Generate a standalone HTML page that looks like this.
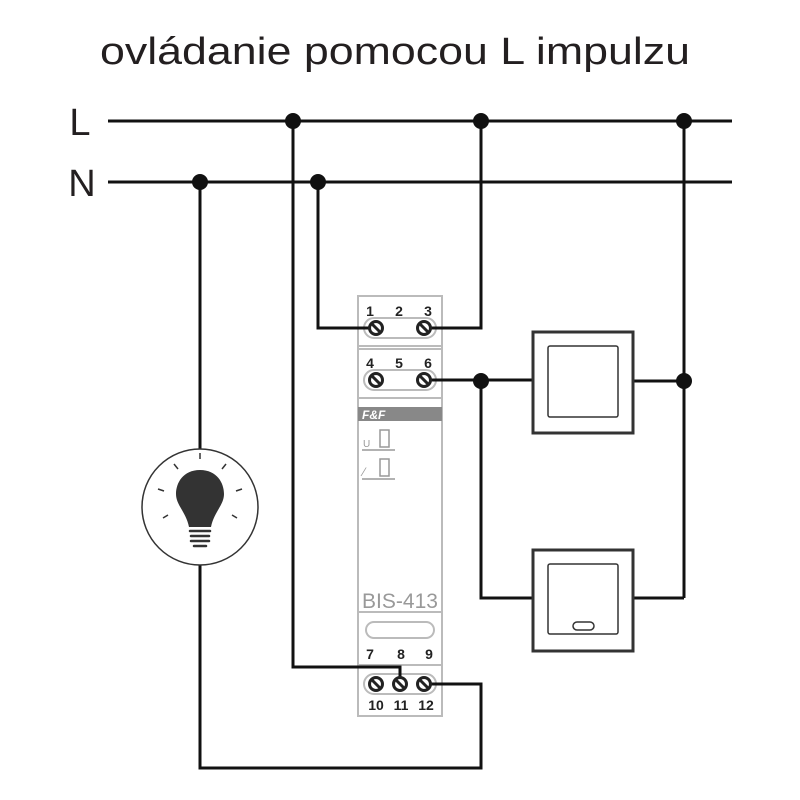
<!DOCTYPE html>
<html><head><style>body{margin:0;background:#fff}svg{display:block}</style></head><body>
<svg width="800" height="800" viewBox="0 0 800 800" xmlns="http://www.w3.org/2000/svg" font-family="Liberation Sans, sans-serif">
<text x="100" y="64" font-size="38" textLength="590" lengthAdjust="spacingAndGlyphs" fill="#231f20">ovládanie pomocou L impulzu</text>
<text x="80" y="135" font-size="38" text-anchor="middle" fill="#231f20">L</text>
<text x="82" y="196" font-size="38" text-anchor="middle" fill="#231f20">N</text>
<!-- device -->
<g stroke="#bbb" stroke-width="2" fill="#fff">
<rect x="358" y="296" width="84" height="420"/>
<line x1="358" y1="346" x2="442" y2="346"/>
<line x1="358" y1="349" x2="442" y2="349"/>
<line x1="358" y1="398" x2="442" y2="398"/>
<line x1="358" y1="612" x2="442" y2="612"/>
<line x1="358" y1="665" x2="442" y2="665"/>
<rect x="364" y="318" width="72" height="20" rx="10"/>
<rect x="364" y="370" width="72" height="20" rx="10"/>
<rect x="366" y="622" width="68" height="16" rx="8"/>
<rect x="364" y="674" width="72" height="20" rx="10"/>
</g>
<rect x="358" y="407" width="84" height="14" fill="#888"/>
<text x="362" y="419" font-size="12" font-weight="bold" font-style="italic" fill="#fff">F&amp;F</text>
<g stroke="#999" stroke-width="1.5" fill="none">
<rect x="380" y="430" width="9" height="17"/><line x1="362" y1="450" x2="395" y2="450"/>
<rect x="380" y="459" width="9" height="17"/><line x1="362" y1="479" x2="395" y2="479"/>
</g>
<text x="363" y="447" font-size="10" fill="#999">U</text>
<text x="363" y="476" font-size="12" fill="#999">⁄</text>
<text x="400" y="608" font-size="21" text-anchor="middle" fill="#999">BIS-413</text>
<g font-size="14" font-weight="bold" fill="#222" text-anchor="middle">
<text x="370" y="316">1</text><text x="399" y="316">2</text><text x="428" y="316">3</text>
<text x="370" y="368">4</text><text x="399" y="368">5</text><text x="428" y="368">6</text>
<text x="370" y="659">7</text><text x="401" y="659">8</text><text x="429" y="659">9</text>
<text x="376" y="710">10</text><text x="401" y="710">11</text><text x="426" y="710">12</text>
</g>
<g stroke="#111" stroke-width="3" fill="none">
<line x1="108" y1="121" x2="732" y2="121"/>
<line x1="108" y1="182" x2="732" y2="182"/>
<polyline points="318,182 318,328 376,328"/>
<polyline points="424,328 481,328 481,121"/>
<polyline points="424,380 532,380"/>
<polyline points="633,381 684,381"/>
<line x1="684" y1="121" x2="684" y2="598"/>
<polyline points="481,380 481,598 532,598"/>
<line x1="633" y1="598" x2="684" y2="598"/>
<polyline points="293,121 293,667 400,667 400,684"/>
<polyline points="424,684 481,684 481,768 200,768 200,565"/>
<line x1="200" y1="182" x2="200" y2="449"/>
</g>
<g fill="#111">
<circle cx="293" cy="121" r="8"/><circle cx="481" cy="121" r="8"/><circle cx="684" cy="121" r="8"/>
<circle cx="200" cy="182" r="8"/><circle cx="318" cy="182" r="8"/>
<circle cx="481" cy="381" r="8"/><circle cx="684" cy="381" r="8"/>
</g>
<g stroke="#222" stroke-width="3" fill="#fff">
<circle cx="376" cy="328" r="6.5"/><circle cx="424" cy="328" r="6.5"/>
<circle cx="376" cy="380" r="6.5"/><circle cx="424" cy="380" r="6.5"/>
<circle cx="376" cy="684" r="6.5"/><circle cx="400" cy="684" r="6.5"/><circle cx="424" cy="684" r="6.5"/>
</g>
<g stroke="#222" stroke-width="3">
<line x1="372" y1="324" x2="380" y2="332"/><line x1="420" y1="324" x2="428" y2="332"/>
<line x1="372" y1="376" x2="380" y2="384"/><line x1="420" y1="376" x2="428" y2="384"/>
<line x1="372" y1="680" x2="380" y2="688"/><line x1="396" y1="680" x2="404" y2="688"/><line x1="420" y1="680" x2="428" y2="688"/>
</g>
<!-- switches -->
<g stroke="#333" fill="#fff">
<rect x="533" y="332" width="100" height="101" stroke-width="3"/>
<rect x="548" y="346" width="70" height="71" rx="2" stroke-width="1.5"/>
<rect x="533" y="550" width="100" height="101" stroke-width="3"/>
<rect x="548" y="564" width="70" height="70" rx="2" stroke-width="1.5"/>
<rect x="573" y="622" width="21" height="8" rx="4" stroke-width="1.5"/>
</g>
<!-- lamp -->
<circle cx="200" cy="507" r="58" fill="#fff" stroke="#333" stroke-width="1.5"/>
<path d="M200,470 C183,470 176,483 176,494 C176,505 186,512 189,527 L211,527 C214,512 224,505 224,494 C224,483 217,470 200,470 Z" fill="#333"/>
<g stroke="#333" stroke-width="2.5" stroke-linecap="round">
<line x1="190" y1="531" x2="210" y2="531"/><line x1="191" y1="536" x2="209" y2="536"/><line x1="191" y1="541" x2="209" y2="541"/>
<line x1="194" y1="546" x2="206" y2="546"/>
</g>
<g stroke="#333" stroke-width="1.5">
<line x1="200" y1="453" x2="200" y2="459"/>
<line x1="174" y1="464" x2="178" y2="469"/><line x1="226" y1="464" x2="222" y2="469"/>
<line x1="158" y1="489" x2="164" y2="491"/><line x1="242" y1="489" x2="236" y2="491"/>
<line x1="163" y1="518" x2="168" y2="515"/><line x1="237" y1="518" x2="232" y2="515"/>
</g>
</svg>
</body></html>
